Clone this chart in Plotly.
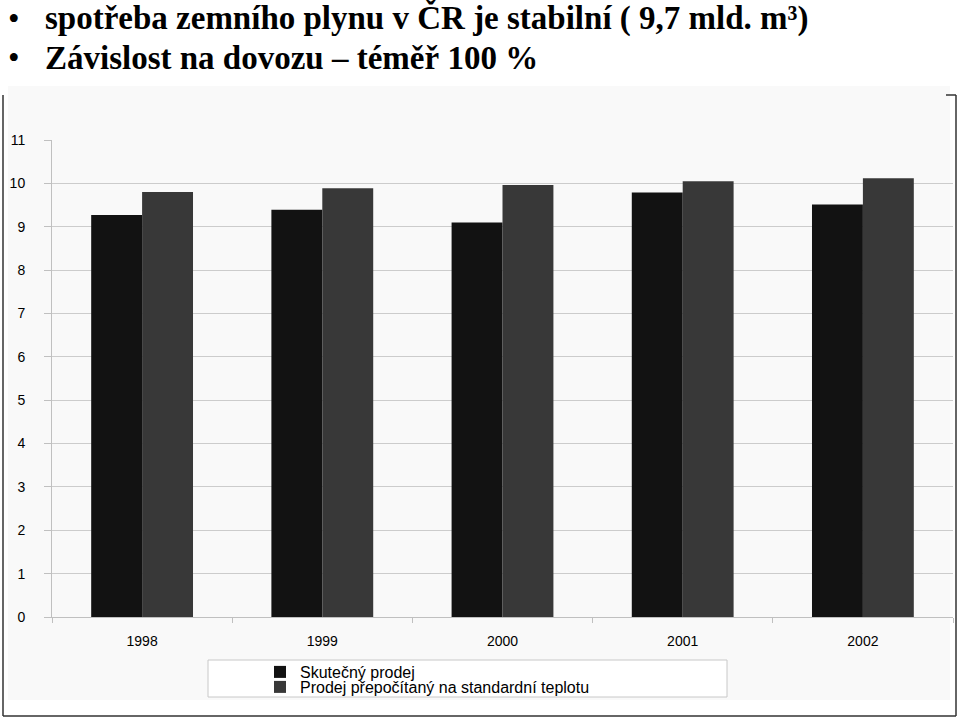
import plotly.graph_objects as go

years = ["1998", "1999", "2000", "2001", "2002"]
skutecny = [9.27, 9.39, 9.10, 9.79, 9.51]
prepocitany = [9.80, 9.89, 9.96, 10.05, 10.12]
series_names = ["Skutečný prodej", "Prodej přepočítaný na standardní teplotu"]
title_lines = [
    "spotřeba zemního plynu v ČR je stabilní ( 9,7 mld. m³)",
    "Závislost na dovozu – téměř 100 %",
]

W, H = 960, 720
L, R, T, B = 52, 7, 140, 103
pw, ph = W - L - R, H - T - B


def px(x):
    return (x - L) / pw


def py(y):
    return (H - B - y) / ph


fig = go.Figure()
fig.add_trace(go.Bar(x=years, y=skutecny, name=series_names[0], legend="legend",
                     marker=dict(color="#121212", line=dict(width=0))))
fig.add_trace(go.Bar(x=years, y=prepocitany, name=series_names[1], legend="legend2",
                     marker=dict(color="#383838", line=dict(width=0))))

frame = dict(color="#333333", width=1.5)
shapes = [
    dict(type="rect", xref="paper", yref="paper", x0=px(8), x1=px(950), y0=py(700), y1=py(86),
         fillcolor="#f9f9f9", line=dict(width=0), layer="below"),
    dict(type="line", xref="paper", yref="paper", x0=px(3), x1=px(3), y0=py(95), y1=py(716), line=frame),
    dict(type="line", xref="paper", yref="paper", x0=px(3), x1=px(956), y0=py(716), y1=py(716), line=frame),
    dict(type="line", xref="paper", yref="paper", x0=px(956), x1=px(956), y0=py(716), y1=py(95), line=frame),
    dict(type="line", xref="paper", yref="paper", x0=px(946), x1=px(956), y0=py(95), y1=py(95), line=frame),
    dict(type="rect", xref="paper", yref="paper", x0=px(208), x1=px(727), y0=py(697), y1=py(660),
         fillcolor="white", line=dict(color="#c8c8c8", width=1), layer="below"),
]

annotations = []
for txt, yb in zip(title_lines, [39, 78]):
    annotations.append(dict(text="•", xref="paper", yref="paper", x=px(6), y=py(yb),
                            xanchor="left", yanchor="bottom", showarrow=False,
                            font=dict(family="Liberation Serif", size=33, color="black")))
    annotations.append(dict(text="<b>" + txt + "</b>", xref="paper", yref="paper", x=px(43), y=py(yb),
                            xanchor="left", yanchor="bottom", showarrow=False,
                            font=dict(family="Liberation Serif", size=33, color="black")))

leg_common = dict(xanchor="left", yanchor="middle", bgcolor="rgba(0,0,0,0)", borderwidth=0,
                  font=dict(family="Liberation Sans", size=16, color="black"))

fig.update_layout(
    width=W, height=H,
    margin=dict(l=L, r=R, t=T, b=B, pad=0),
    paper_bgcolor="white",
    plot_bgcolor="#fcfcfc",
    barmode="group",
    bargap=0.435,
    bargroupgap=0,
    font=dict(family="Liberation Sans", size=14, color="black"),
    shapes=shapes,
    annotations=annotations,
    showlegend=True,
    legend=dict(x=px(260), y=py(672), **leg_common),
    legend2=dict(x=px(260), y=py(687), **leg_common),
    xaxis=dict(type="category", showgrid=False, showline=True, linecolor="#c0c0c0", linewidth=1,
               ticks="outside", tickson="boundaries", ticklen=5, tickcolor="#c0c0c0",
               tickfont=dict(size=14), ticklabelstandoff=11, zeroline=False),
    yaxis=dict(range=[0, 11], dtick=1, showgrid=True, gridcolor="#cccccc", gridwidth=1,
               showline=True, linecolor="#c0c0c0", linewidth=1, ticks="outside", ticklen=7,
               tickcolor="#c0c0c0", tickfont=dict(size=14), ticklabelstandoff=16, zeroline=False),
)

fig.write_html("out.html", config={"displayModeBar": False},
               post_script="document.body.style.margin='0px';")
